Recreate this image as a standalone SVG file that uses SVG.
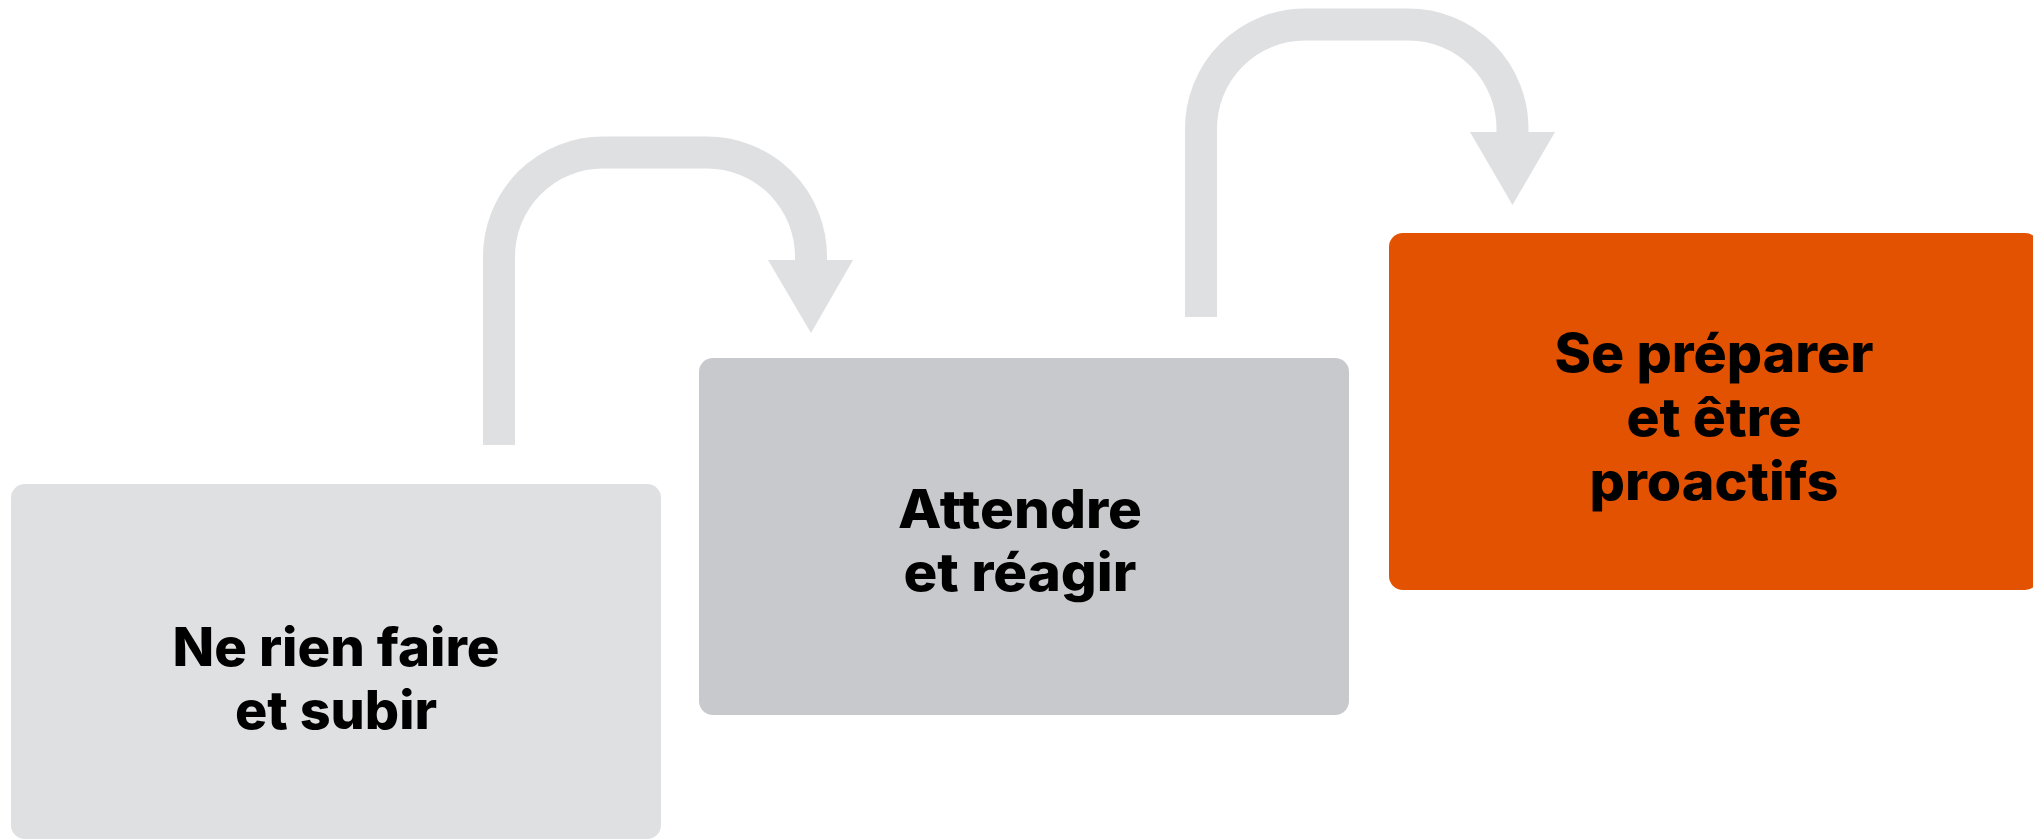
<svg xmlns="http://www.w3.org/2000/svg" width="2033" height="839" viewBox="0 0 2033 839">
  <style>
    .lbl { font-family: Inter, "Liberation Sans", sans-serif; font-weight: 800; font-size: 53px; fill: #000; text-anchor: middle; }
    .conn { fill: none; stroke: #DFE0E2; stroke-width: 32; }
    .head { fill: #DFE0E2; }
  </style>
  <rect width="2033" height="839" fill="#FFFFFF"/>
  <g id="connectors">
    <g id="arrow1">
      <path class="conn" d="M 499 445 V 257 A 104 104 0 0 1 603 152.5 H 707 A 104 104 0 0 1 811 257 V 261"/>
      <polygon class="head" points="768,260 853,260 811,333"/>
    </g>
    <g id="arrow2">
      <path class="conn" d="M 1201 317 V 129 A 104 104 0 0 1 1305 24.5 H 1408.5 A 104 104 0 0 1 1512.5 129 V 133"/>
      <polygon class="head" points="1470,132 1555,132 1512.5,205"/>
    </g>
  </g>
  <g id="node1">
    <rect x="11" y="484" width="650" height="355" rx="14" fill="#DFE0E2"/>
    <text class="lbl" x="336" y="666" textLength="327" lengthAdjust="spacingAndGlyphs">Ne rien faire</text>
    <text class="lbl" x="336" y="729" textLength="202" lengthAdjust="spacingAndGlyphs">et subir</text>
  </g>
  <g id="node2">
    <rect x="699" y="358" width="650" height="357" rx="14" fill="#C8C9CD"/>
    <text class="lbl" x="1020" y="528" textLength="244" lengthAdjust="spacingAndGlyphs">Attendre</text>
    <text class="lbl" x="1020" y="591" textLength="233" lengthAdjust="spacingAndGlyphs">et réagir</text>
  </g>
  <g id="node3">
    <rect x="1389" y="233" width="650" height="357" rx="14" fill="#E35200"/>
    <text class="lbl" x="1714" y="372" textLength="319" lengthAdjust="spacingAndGlyphs">Se préparer</text>
    <text class="lbl" x="1714" y="436" textLength="175" lengthAdjust="spacingAndGlyphs">et être</text>
    <text class="lbl" x="1714" y="500" textLength="249" lengthAdjust="spacingAndGlyphs">proactifs</text>
  </g>
</svg>
